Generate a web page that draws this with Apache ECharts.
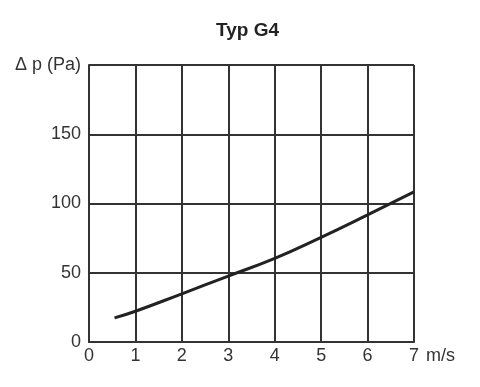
<!DOCTYPE html>
<html><head><meta charset="utf-8">
<script src="https://cdn.jsdelivr.net/npm/echarts@6/dist/echarts.min.js"></script>
<style>html,body{margin:0;padding:0;background:#fff}#c{width:480px;height:387px}</style>
</head><body><div id="c"></div>
<script>
const titleText = 'Typ G4';
const yAxisLabel = 'Δ p (Pa)';
const xAxisUnit = 'm/s';
const xTicks = [0, 1, 2, 3, 4, 5, 6, 7];
const yTicks = [0, 50, 100, 150, 200];
const velocity = [0.55, 1, 2, 3, 4, 5, 6, 7];
const pressureDrop = [17.4, 22.2, 34.8, 47.6, 60.4, 75.6, 91.8, 108.4];

const font = 'Liberation Sans, Arial, Helvetica, sans-serif';
const chart = echarts.init(document.getElementById('c'), null, {renderer: 'canvas'});
chart.setOption({
  animation: false,
  backgroundColor: '#fff',
  title: {text: titleText, left: 216, top: 21, padding: 0,
    textStyle: {fontFamily: font, fontWeight: 'bold', fontSize: 19, color: '#222'}},
  grid: {left: 89, right: 66, top: 65, bottom: 45},
  xAxis: {type: 'value', min: xTicks[0], max: xTicks[xTicks.length - 1], interval: 1,
    name: xAxisUnit, nameLocation: 'end', nameGap: 12,
    nameTextStyle: {fontFamily: font, fontSize: 18, color: '#333', verticalAlign: 'top', padding: [5, 0, 0, 0]},
    axisLine: {show: true, lineStyle: {color: '#333', width: 2}},
    axisTick: {show: false},
    axisLabel: {fontFamily: font, fontSize: 18, color: '#333', margin: 5},
    splitLine: {show: true, lineStyle: {color: '#333', width: 2}}},
  yAxis: {type: 'value', min: yTicks[0], max: yTicks[yTicks.length - 1], interval: 50,
    axisLine: {show: true, lineStyle: {color: '#333', width: 2}},
    axisTick: {show: false},
    axisLabel: {fontFamily: font, fontSize: 18, color: '#333', margin: 8,
      formatter: v => v === yTicks[yTicks.length - 1] ? yAxisLabel : String(v)},
    splitLine: {show: true, lineStyle: {color: '#333', width: 2}}},
  series: [{type: 'line', data: velocity.map((x, i) => [x, pressureDrop[i]]),
    smooth: true, showSymbol: false, lineStyle: {color: '#222', width: 3}}]
});
</script></body></html>
